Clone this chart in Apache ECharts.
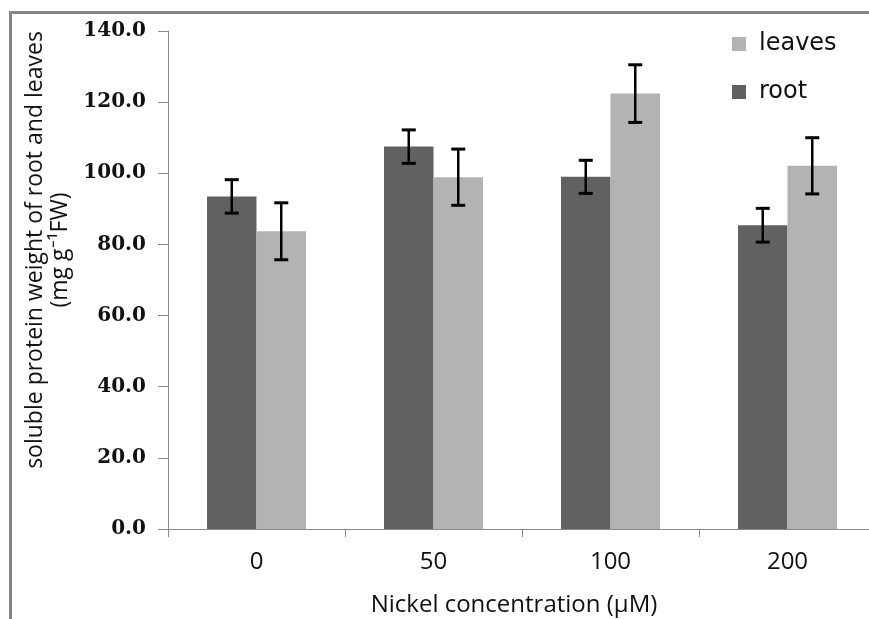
<!DOCTYPE html>
<html>
<head>
<meta charset="utf-8">
<script src="https://cdn.jsdelivr.net/npm/echarts@6/dist/echarts.min.js"></script>
<style>
  html, body { margin: 0; padding: 0; background: #fff; overflow: hidden; }
  #frame {
    position: absolute; left: 9px; top: 11px; width: 1000px; height: 1000px;
    border-left: 3px solid #858585; border-top: 3px solid #858585;
  }
  #chart { position: absolute; left: 0; top: 0; width: 869px; height: 619px; }
</style>
</head>
<body>
<div id="frame"></div>
<div id="chart"></div>
<script>
const categories = ['0', '50', '100', '200'];
const rootValues = [93.5, 107.5, 99.0, 85.4];
const rootErrors = [4.7, 4.7, 4.65, 4.75];
const leavesValues = [83.7, 98.9, 122.4, 102.1];
const leavesErrors = [8.0, 7.9, 8.1, 7.9];
const yTicks = { min: 0, max: 140, interval: 20 };

const BAR_W = 49.5;

function errorData(values, errors) {
  return values.map((v, i) => [i, v - errors[i], v + errors[i]]);
}

function errorSeries(name, values, errors, side) {
  return {
    name: name + ' error',
    type: 'custom',
    silent: true,
    z: 10,
    data: errorData(values, errors),
    encode: { x: 0, y: [1, 2] },
    renderItem: function (params, api) {
      const idx = api.value(0);
      const lo = api.coord([idx, api.value(1)]);
      const hi = api.coord([idx, api.value(2)]);
      const x = lo[0] + side * BAR_W / 2;
      const cap = 7;
      const style = { stroke: '#000', lineWidth: 2.5 };
      return {
        type: 'group',
        children: [
          { type: 'line', shape: { x1: x, y1: hi[1], x2: x, y2: lo[1] }, style: style },
          { type: 'line', shape: { x1: x - cap, y1: hi[1], x2: x + cap, y2: hi[1] }, style: { stroke: '#000', lineWidth: 3 } },
          { type: 'line', shape: { x1: x - cap, y1: lo[1], x2: x + cap, y2: lo[1] }, style: { stroke: '#000', lineWidth: 3 } }
        ]
      };
    }
  };
}

const chart = echarts.init(document.getElementById('chart'), null, { renderer: 'canvas' });
const option = {
  backgroundColor: 'transparent',
  animation: false,
  grid: {
    left: 168, top: 31, width: 708, height: 498,
    containLabel: false, outerBoundsMode: 'none'
  },
  legend: {
    orient: 'vertical',
    left: 727, top: 27,
    itemWidth: 14, itemHeight: 14, itemGap: 24,
    icon: 'rect',
    data: ['leaves', 'root'],
    textStyle: { fontFamily: 'DejaVu Sans', fontSize: 24, color: '#111', padding: [0, 0, 0, 8] }
  },
  xAxis: {
    type: 'category',
    data: categories,
    name: 'Nickel concentration (\u00B5M)',
    nameLocation: 'middle',
    nameGap: 64,
    nameTextStyle: { fontFamily: 'Open Sans', fontSize: 24, color: '#111', padding: [0, 16, 0, 0] },
    axisLine: { lineStyle: { color: '#8a8a8a', width: 1 } },
    axisTick: { show: true, length: 8, lineStyle: { color: '#8a8a8a' } },
    axisLabel: { margin: 21, fontFamily: 'Open Sans', fontSize: 24, color: '#111' }
  },
  yAxis: {
    type: 'value',
    min: yTicks.min, max: yTicks.max, interval: yTicks.interval,
    name: 'soluble protein weight of root and leaves\n(mg g\u207B\u00B9FW)',
    nameLocation: 'middle',
    nameRotate: 90,
    nameGap: 92,
    nameTextStyle: {
      fontFamily: 'Open Sans', fontSize: 23, color: '#111', lineHeight: 25,
      align: 'center', padding: [0, 0, 0, 60]
    },
    axisLine: { show: true, lineStyle: { color: '#8a8a8a', width: 1 } },
    axisTick: { show: true, length: 10, lineStyle: { color: '#8a8a8a' } },
    splitLine: { show: false },
    axisLabel: {
      margin: 22,
      fontFamily: 'DejaVu Serif', fontWeight: 'bold', fontSize: 20, color: '#111',
      formatter: v => v.toFixed(1)
    }
  },
  series: [
    {
      name: 'root', type: 'bar', data: rootValues,
      barWidth: BAR_W, barGap: '0%',
      itemStyle: { color: '#616161' }
    },
    {
      name: 'leaves', type: 'bar', data: leavesValues,
      barWidth: BAR_W, barGap: '0%',
      itemStyle: { color: '#b3b3b3' }
    },
    errorSeries('root', rootValues, rootErrors, -1),
    errorSeries('leaves', leavesValues, leavesErrors, 1)
  ]
};
chart.setOption(option);
</script>
</body>
</html>
